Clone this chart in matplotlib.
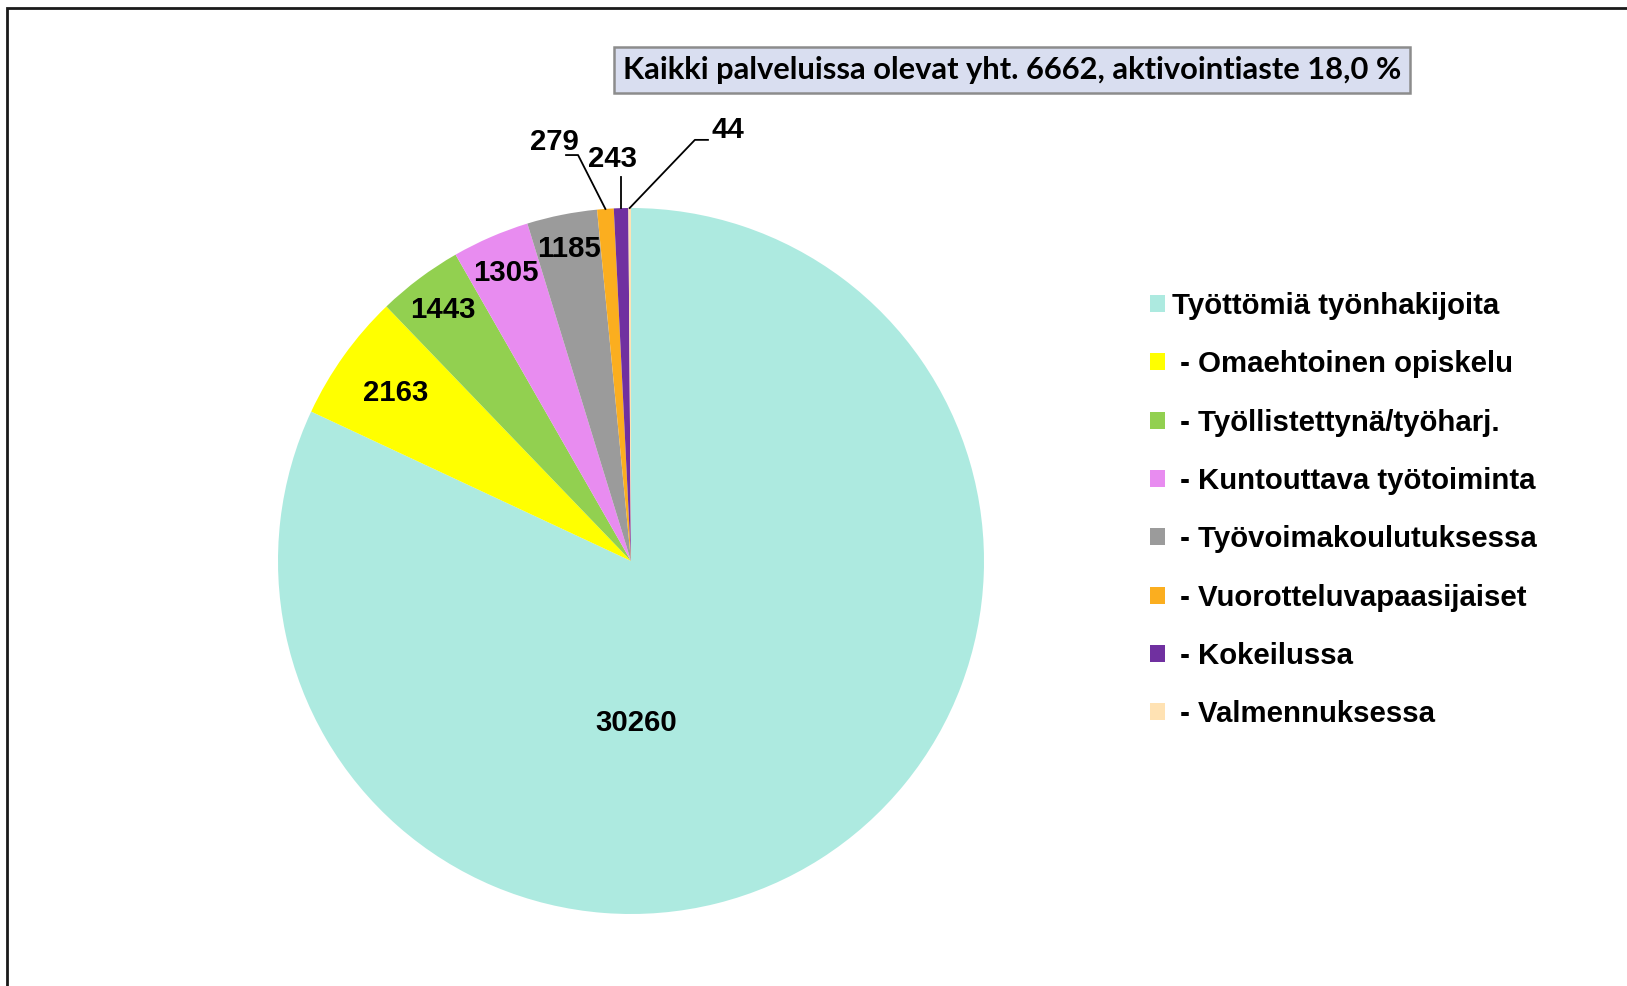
import numpy as np
import matplotlib.pyplot as plt
from matplotlib.patches import Rectangle

# data
categories = ['Työttömiä työnhakijoita', ' - Omaehtoinen opiskelu', ' - Työllistettynä/työharj.',
              ' - Kuntouttava työtoiminta', ' - Työvoimakoulutuksessa', ' - Vuorotteluvapaasijaiset',
              ' - Kokeilussa', ' - Valmennuksessa']
values = [30260, 2163, 1443, 1305, 1185, 279, 243, 44]
colors = ['#ADEAE0', '#FFFF00', '#92D050', '#E88CF0', '#9B9B9B', '#FBAE1F', '#7030A0', '#FFE2B3']
summary = 'Kaikki palveluissa olevat yht. 6662, aktivointiaste 18,0 %'

W, H = 1627, 986
fig = plt.figure(figsize=(W / 100, H / 100), dpi=100)
fig.patch.set_facecolor('white')

# pie placed by pixel: center and radius
R = 353
cx, cy = 631, 561
a = 1.25
side = 2 * a * R
ax = fig.add_axes([(cx - a * R) / W, (H - cy - a * R) / H, side / W, side / H])
wedges, _ = ax.pie(values, colors=colors, startangle=90, counterclock=False,
                   wedgeprops=dict(linewidth=0))
ax.set_xlim(-a, a)
ax.set_ylim(-a, a)
ax.axis('off')

font = dict(family='Liberation Sans', weight='bold', size=21.2)

# labels inside the wedges (angle override for the big slice, like excel does)
inside_r = [0.46, 0.82, 0.89, 0.89, 0.90]
for i, r in enumerate(inside_r):
    w = wedges[i]
    ang = np.deg2rad((w.theta1 + w.theta2) / 2)
    if i == 0:
        ang = np.deg2rad(-88)
    ax.text(r * np.cos(ang), r * np.sin(ang), str(values[i]), ha='center', va='center', **font)

# small slices: label outside with leader line (text pos, elbow, tail end)
outside = {5: ((-0.218, 1.187), (-0.150, 1.150), (-0.184, 1.150)),
           6: ((-0.051, 1.139), None, None),
           7: ((0.275, 1.221), (0.181, 1.193), (0.218, 1.193))}
for i, (txt, elbow, tail) in outside.items():
    w = wedges[i]
    ang = np.deg2rad((w.theta1 + w.theta2) / 2)
    ex, ey = np.cos(ang), np.sin(ang)
    if elbow is None:
        ax.plot([ex, ex], [ey, 1.088], color='black', lw=1.3, clip_on=False)
    else:
        ax.plot([ex, elbow[0], tail[0]], [ey, elbow[1], tail[1]], color='black', lw=1.3, clip_on=False)
    ax.text(txt[0], txt[1], str(values[i]), ha='center', va='center', **font)

# legend
fig.legend(wedges, categories, loc='upper left', bbox_to_anchor=(1150 / W, 1 - 292 / H),
           frameon=False, prop=font, handlelength=0.51, handleheight=0.51,
           handletextpad=0.25, labelspacing=1.03, borderpad=0, borderaxespad=0)

# summary box
fig.text(1012 / W, 1 - 70 / H, summary, ha='center', va='center',
         family='Lato', weight='bold', size=22.2,
         bbox=dict(boxstyle='square,pad=0.3', fc='#D9DEF0', ec='#8C8C8C', lw=1.8))

# chart border, runs off right and bottom
fig.add_artist(Rectangle((7 / W, -0.1), 1.2, (H - 8) / H + 0.1, transform=fig.transFigure,
                         fill=False, ec='#1A1A1A', lw=2.0, clip_on=False))

plt.savefig('out.png', dpi=100)
